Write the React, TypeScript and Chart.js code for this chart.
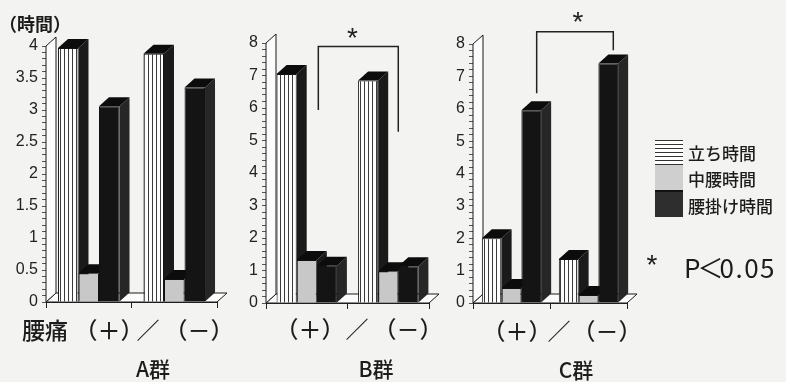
import React, { useEffect, useRef } from "react";
import { Chart, registerables } from "chart.js";
Chart.register(...registerables);

// ---------- data ----------
const GROUPS = ["（＋）", "（－）"];
const SERIES = ["立ち時間", "中腰時間", "腰掛け時間"];
const PANEL_TITLES = ["A群", "B群", "C群"];

const A_STAND = [3.97, 3.88];
const A_MID = [0.45, 0.36];
const A_SIT = [3.06, 3.35];

const B_STAND = [7.05, 6.85];
const B_MID = [1.32, 0.98];
const B_SIT = [1.15, 1.13];

const C_STAND = [2.0, 1.36];
const C_MID = [0.46, 0.25];
const C_SIT = [5.95, 7.4];

const Y_MAX = [4, 8, 8];
const Y_STEP = [0.5, 1, 1];
const Y_MINOR = [0.1, 0.2, 0.2];

// ---------- layout ----------
const W = 786;
const H = 382;
const Y_AXIS_W = 40;
const X_AXIS_H = 10;
const DX = 10;
const DY = 9;
const BG = "#f3f3f1";
const FONT_JP = "'Noto Sans CJK JP', 'Noto Sans', sans-serif";
const FONT_NUM = "'Liberation Sans', Arial, sans-serif";

type Sig = { x0: number; x1: number; yTop: number; y0: number; y1: number; sx: number; sy: number };
type Panel = {
  series: number[][];
  max: number;
  step: number;
  minor: number;
  area: { l: number; r: number; t: number; b: number };
  cat: number;
  sig: Sig | null;
};

const PANELS: Panel[] = [
  { series: [A_STAND, A_MID, A_SIT], max: Y_MAX[0], step: Y_STEP[0], minor: Y_MINOR[0], area: { l: 46, r: 217, t: 46, b: 302 }, cat: 0.72, sig: null },
  {
    series: [B_STAND, B_MID, B_SIT], max: Y_MAX[1], step: Y_STEP[1], minor: Y_MINOR[1], area: { l: 266, r: 429, t: 43, b: 303 }, cat: 0.74,
    sig: { x0: 0.142, x1: 1.123, yTop: 7.89, y0: 5.94, y1: 5.27, sx: 0.561, sy: 8.25 },
  },
  {
    series: [C_STAND, C_MID, C_SIT], max: Y_MAX[2], step: Y_STEP[2], minor: Y_MINOR[2], area: { l: 473, r: 627, t: 44, b: 303 }, cat: 0.77,
    sig: { x0: 0.327, x1: 1.322, yTop: 8.38, y0: 6.48, y1: 7.81, sx: 0.864, sy: 8.8 },
  },
];

function stripePattern(ctx: CanvasRenderingContext2D) {
  const c = document.createElement("canvas");
  c.width = 4;
  c.height = 4;
  const g = c.getContext("2d")!;
  g.fillStyle = "#fdfdfd";
  g.fillRect(0, 0, 4, 4);
  g.fillStyle = "#3a3a3a";
  g.fillRect(0, 0, 1, 4);
  return ctx.createPattern(c, "repeat")!;
}

function makeDepthPlugin(panel: Panel) {
  return {
    id: "depth3d",
    beforeDatasetsDraw(chart: any) {
      const { ctx, chartArea: a } = chart;
      ctx.save();
      ctx.strokeStyle = "#1a1a1a";
      ctx.lineWidth = 1;
      ctx.fillStyle = "#fcfcfc";
      // floor
      ctx.beginPath();
      ctx.moveTo(a.left, a.bottom);
      ctx.lineTo(a.left + DX, a.bottom - DY);
      ctx.lineTo(a.right + DX, a.bottom - DY);
      ctx.lineTo(a.right, a.bottom);
      ctx.closePath();
      ctx.fill();
      ctx.stroke();
      // left wall
      ctx.beginPath();
      ctx.moveTo(a.left, a.bottom);
      ctx.lineTo(a.left, a.top);
      ctx.lineTo(a.left + DX, a.top - DY);
      ctx.lineTo(a.left + DX, a.bottom - DY);
      ctx.closePath();
      ctx.fill();
      ctx.stroke();
      // bar sides and tops
      chart.data.datasets.forEach((_ds: any, i: number) => {
        const meta = chart.getDatasetMeta(i);
        meta.data.forEach((el: any) => {
          const { x, y, base, width } = el.getProps(["x", "y", "base", "width"], true);
          const l = x - width / 2;
          const r = x + width / 2;
          ctx.fillStyle = i === 2 ? "#262626" : "#1a1a1a";
          ctx.beginPath();
          ctx.moveTo(r, y);
          ctx.lineTo(r + DX, y - DY);
          ctx.lineTo(r + DX, base - DY);
          ctx.lineTo(r, base);
          ctx.closePath();
          ctx.fill();
          ctx.fillStyle = "#0c0c0c";
          ctx.beginPath();
          ctx.moveTo(l, y);
          ctx.lineTo(l + DX, y - DY);
          ctx.lineTo(r + DX, y - DY);
          ctx.lineTo(r, y);
          ctx.closePath();
          ctx.fill();
        });
      });
      ctx.restore();
    },
    afterDatasetsDraw(chart: any) {
      const sig = panel.sig;
      if (!sig) return;
      const { ctx } = chart;
      const xs = chart.scales.x;
      const ys = chart.scales.y;
      ctx.save();
      ctx.strokeStyle = "#222";
      ctx.lineWidth = 1.5;
      ctx.beginPath();
      ctx.moveTo(xs.getPixelForValue(sig.x0), ys.getPixelForValue(sig.y0));
      ctx.lineTo(xs.getPixelForValue(sig.x0), ys.getPixelForValue(sig.yTop));
      ctx.lineTo(xs.getPixelForValue(sig.x1), ys.getPixelForValue(sig.yTop));
      ctx.lineTo(xs.getPixelForValue(sig.x1), ys.getPixelForValue(sig.y1));
      ctx.stroke();
      const size = 28;
      ctx.font = `${size}px ${FONT_NUM}`;
      ctx.fillStyle = "#222";
      ctx.textAlign = "center";
      ctx.textBaseline = "alphabetic";
      ctx.fillText("*", xs.getPixelForValue(sig.sx), ys.getPixelForValue(sig.sy) + size * 0.45);
      ctx.restore();
    },
  };
}

function PanelChart({ panel }: { panel: Panel }) {
  const ref = useRef<HTMLCanvasElement | null>(null);
  useEffect(() => {
    const canvas = ref.current!;
    const ctx = canvas.getContext("2d")!;
    const fills = [stripePattern(ctx), "#c8c8c8", "#141414"];
    const isMajor = (v: number) => Math.abs(v / panel.step - Math.round(v / panel.step)) < 1e-6;
    const chart = new Chart(canvas, {
      type: "bar",
      data: {
        labels: GROUPS,
        datasets: SERIES.map((name, i) => ({
          label: name,
          data: panel.series[i],
          backgroundColor: fills[i] as any,
          borderColor: "#111",
          borderWidth: 1,
          categoryPercentage: panel.cat,
          barPercentage: 1,
        })),
      },
      options: {
        responsive: false,
        animation: false,
        devicePixelRatio: 1,
        events: [],
        layout: {
          padding: {
            left: panel.area.l - Y_AXIS_W,
            right: W - panel.area.r,
            top: panel.area.t,
            bottom: H - panel.area.b - X_AXIS_H,
          },
        },
        plugins: { legend: { display: false }, tooltip: { enabled: false } },
        scales: {
          x: {
            type: "category",
            offset: true,
            ticks: { display: false },
            grid: { offset: true, drawOnChartArea: false, tickLength: 6, color: "#222" },
            border: { display: true, color: "#222", width: 1 },
            afterFit: (s: any) => {
              s.height = X_AXIS_H;
            },
          },
          y: {
            min: 0,
            max: panel.max,
            ticks: {
              stepSize: panel.minor,
              autoSkip: false,
              callback: (v: any) => (isMajor(Number(v)) ? String(Math.round(Number(v) * 10) / 10) : ""),
              color: "#222",
              padding: 4,
              font: { family: FONT_NUM, size: 16 },
            },
            grid: { drawOnChartArea: false, tickLength: 4, color: "#555" },
            border: { display: true, color: "#222", width: 1 },
            afterFit: (s: any) => {
              s.width = Y_AXIS_W;
            },
          },
        },
      } as any,
      plugins: [makeDepthPlugin(panel)],
    });
    return () => chart.destroy();
  }, [panel]);
  return (
    <canvas
      ref={ref}
      width={W}
      height={H}
      style={{ position: "absolute", left: 0, top: 0, width: W, height: H }}
    />
  );
}

function Txt({ x, y, size, children, weight = 500, family = FONT_JP, align = "center", spacing = 0 }: any) {
  return (
    <div
      style={{
        position: "absolute",
        left: x,
        top: y,
        transform: align === "center" ? "translate(-50%, -50%)" : "translate(0, -50%)",
        fontSize: size,
        fontFamily: family,
        fontWeight: weight,
        color: "#1c1c1c",
        whiteSpace: "nowrap",
        lineHeight: 1,
        letterSpacing: spacing,
      }}
    >
      {children}
    </div>
  );
}

export default function App() {
  return (
    <div style={{ position: "absolute", left: 0, top: 0, width: W, height: H, background: BG, overflow: "hidden" }}>
      {PANELS.map((p, i) => (
        <PanelChart key={i} panel={p} />
      ))}
      <Txt x={35} y={23} size={18} weight={700}>（時間）</Txt>

      {/* x labels panel A */}
      <Txt x={45} y={329} size={23}>腰痛</Txt>
      <Txt x={109} y={329} size={23}>{GROUPS[0]}</Txt>
      <Txt x={148} y={329} size={23}>／</Txt>
      <Txt x={199} y={329} size={23}>{GROUPS[1]}</Txt>
      <Txt x={153} y={368} size={21}>{PANEL_TITLES[0]}</Txt>

      {/* panel B */}
      <Txt x={310} y={328} size={23}>{GROUPS[0]}</Txt>
      <Txt x={357} y={328} size={23}>／</Txt>
      <Txt x={408} y={328} size={23}>{GROUPS[1]}</Txt>
      <Txt x={376} y={368} size={21}>{PANEL_TITLES[1]}</Txt>

      {/* panel C */}
      <Txt x={517} y={330} size={23}>{GROUPS[0]}</Txt>
      <Txt x={559} y={330} size={23}>／</Txt>
      <Txt x={607} y={330} size={23}>{GROUPS[1]}</Txt>
      <Txt x={576} y={369} size={21}>{PANEL_TITLES[2]}</Txt>

      {/* legend */}
      <div
        style={{
          position: "absolute", left: 655, top: 140, width: 28, height: 25,
          background: "repeating-linear-gradient(to bottom, #333 0px, #333 1px, #fdfdfd 1px, #fdfdfd 4px)",
        }}
      />
      <div style={{ position: "absolute", left: 655, top: 165, width: 28, height: 25, background: "#cfcfcf" }} />
      <div style={{ position: "absolute", left: 655, top: 190, width: 28, height: 27, background: "#2e2e2e", borderTop: "2px solid #111", boxSizing: "border-box" }} />
      <Txt x={688} y={152} size={17} align="left">{SERIES[0]}</Txt>
      <Txt x={688} y={178} size={17} align="left">{SERIES[1]}</Txt>
      <Txt x={688} y={205} size={17} align="left">{SERIES[2]}</Txt>

      <Txt x={652} y={265} size={28} family={FONT_NUM} weight={400}>*</Txt>
      <div
        style={{
          position: "absolute", left: 684, top: 267, transform: "translate(0, -50%)",
          fontFamily: FONT_JP, fontSize: 26, color: "#1c1c1c", whiteSpace: "nowrap", lineHeight: 1,
        }}
      >
        <span>P</span>
        <span style={{ margin: "0 -4px 0 -3px" }}>＜</span>
        <span style={{ letterSpacing: 1.5 }}>0.05</span>
      </div>
    </div>
  );
}
